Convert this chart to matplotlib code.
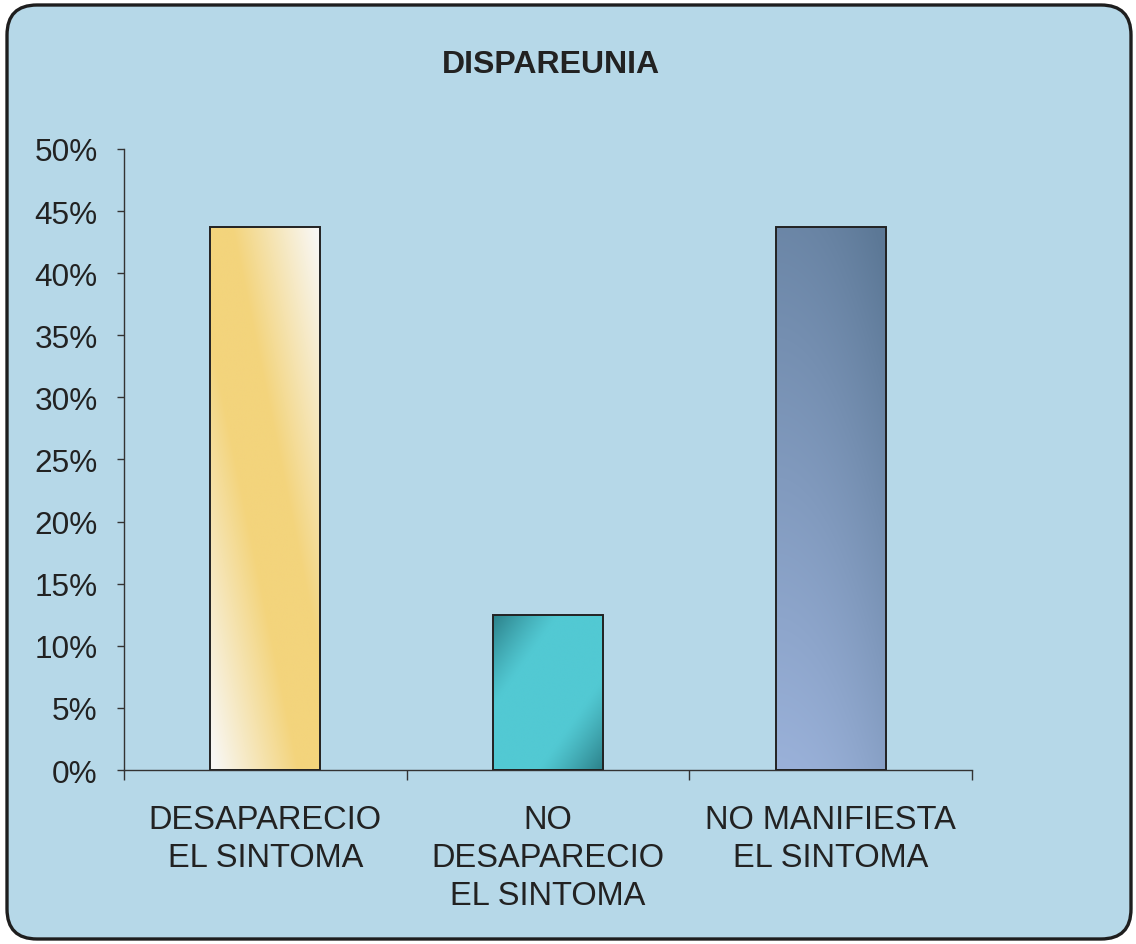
import numpy as np
import matplotlib
matplotlib.use("Agg")
from matplotlib import pyplot as plt
from matplotlib.patches import FancyBboxPatch
from matplotlib.colors import to_rgb

# Data
categories = ["DESAPARECIO\nEL SINTOMA", "NO\nDESAPARECIO\nEL SINTOMA", "NO MANIFIESTA\nEL SINTOMA"]
values = [0.4375, 0.125, 0.4375]
yticks = [0.0, 0.05, 0.10, 0.15, 0.20, 0.25, 0.30, 0.35, 0.40, 0.45, 0.50]
ytick_labels = ["0%", "5%", "10%", "15%", "20%", "25%", "30%", "35%", "40%", "45%", "50%"]
title = "DISPAREUNIA"

plt.rcParams['font.family'] = ['Liberation Sans', 'DejaVu Sans']

fig = plt.figure(figsize=(11.36, 9.45), dpi=100)
fig.patch.set_facecolor("white")

# rounded light-blue panel behind everything
panel = FancyBboxPatch((0.07, 0.05), 11.24, 9.34,
                       boxstyle="round,pad=0,rounding_size=0.3",
                       transform=fig.dpi_scale_trans,
                       facecolor="#b6d8e8", edgecolor="#1e1e1e", linewidth=2.4,
                       zorder=-5)
fig.patches.append(panel)

ax = fig.add_axes([0.1092, 0.1841, 0.7464, 0.6572])
ax.set_facecolor("none")
ax.set_zorder(2)

x = np.arange(len(categories))
bars = ax.bar(x, values, width=0.39, facecolor="none", edgecolor="#222222",
              linewidth=1.4, zorder=3)


def grad(kind, n=200):
    # u runs left->right, v runs bottom->top
    u, v = np.meshgrid(np.linspace(0, 1, n), np.linspace(0, 1, n))
    if kind == 0:
        # yellow band along the diagonal, white in two corners
        a, b = np.array(to_rgb("#f3d47c")), np.array(to_rgb("#f8f7f4"))
        t = np.clip((np.abs(u + v - 1.0) - 0.2) / 0.75, 0, 1)
    elif kind == 1:
        a, b = np.array(to_rgb("#52c9d3")), np.array(to_rgb("#2b7f88"))
        t = np.clip(np.abs(u - v) - 0.4, 0, 1) / 0.6
        t = t ** 1.2
    else:
        a, b = np.array(to_rgb("#9ab1d9")), np.array(to_rgb("#5c7896"))
        t = np.clip(0.75 * v + 0.3 * u ** 2, 0, 1)
    img = a[None, None, :] * (1 - t[..., None]) + b[None, None, :] * t[..., None]
    return img


for i, b in enumerate(bars):
    x0, w, h = b.get_x(), b.get_width(), b.get_height()
    im = ax.imshow(grad(i), extent=(x0, x0 + w, 0, h), origin="lower",
                   aspect="auto", zorder=2, interpolation="bilinear")
    im.set_clip_path(b)

ax.set_xlim(-0.5, 2.5)
ax.set_ylim(0, 0.5)

ax.set_yticks(yticks)
ax.set_yticklabels(ytick_labels)
ax.set_xticks([-0.5, 0.5, 1.5, 2.5], minor=False)
ax.set_xticklabels([])
ax.set_xticks(x, minor=True)
ax.set_xticklabels(categories, minor=True)

for s in ["top", "right"]:
    ax.spines[s].set_visible(False)
for s in ["left", "bottom"]:
    ax.spines[s].set_color("#333333")
    ax.spines[s].set_linewidth(1.0)

ax.tick_params(axis="y", direction="out", length=5, width=1.0, color="#333333",
               labelsize=22.7, pad=14, labelcolor="#222222")
ax.tick_params(axis="x", which="major", direction="out", length=7, width=1.0,
               color="#333333")
ax.tick_params(axis="x", which="minor", length=0, labelsize=23.5, pad=24.5,
               labelcolor="#222222")
for lab in ax.get_xticklabels(minor=True):
    lab.set_linespacing(1.3)

fig.text(0.485, 0.931, title, ha="center", va="center", fontsize=23,
         fontweight="bold", color="#222222")

fig.savefig("out.png", dpi=100)
